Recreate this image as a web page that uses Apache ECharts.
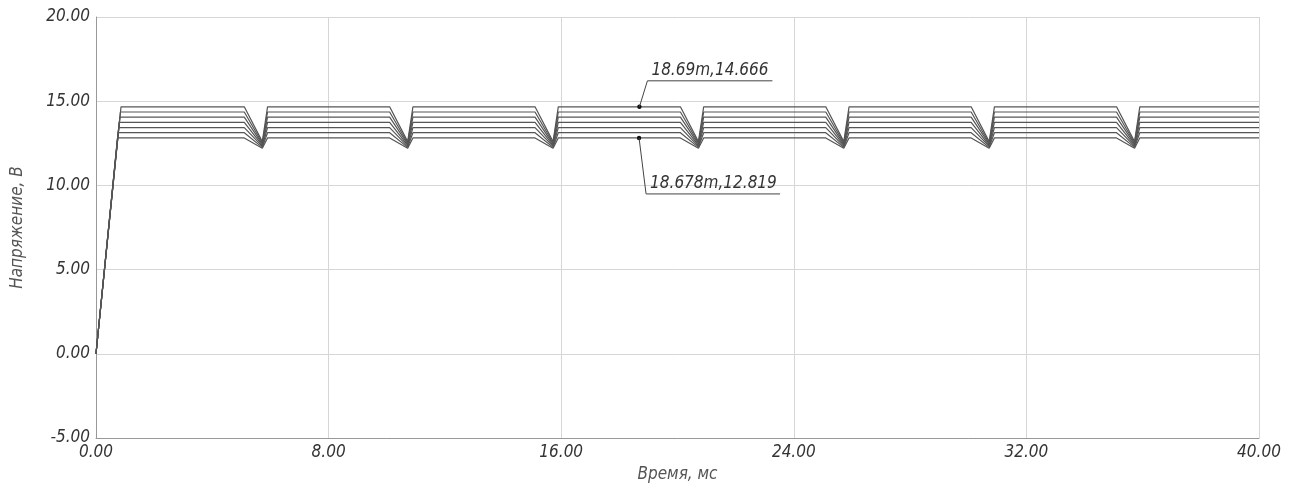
<!DOCTYPE html>
<html>
<head>
<meta charset="utf-8">
<script src="https://cdn.jsdelivr.net/npm/echarts@6/dist/echarts.min.js"></script>
<style>
  html, body { margin: 0; padding: 0; background: #fff; }
  #chart { width: 1293px; height: 490px; }
</style>
</head>
<body>
<div id="chart"></div>
<script>
// time points (ms) shared by all traces after the ramp: each dip (start, bottom, recovery), end
const times = [
  5.1, 5.72, 5.9,
  10.1, 10.72, 10.9,
  15.1, 15.72, 15.9,
  20.1, 20.72, 20.9,
  25.1, 25.72, 25.9,
  30.1, 30.72, 30.9,
  35.1, 35.72, 35.9,
  40];

// time (ms) where each trace's ramp reaches its level
const rampEnd = [0.86, 0.84, 0.82, 0.8, 0.78, 0.76, 0.74];

// voltage (V) for each trace, top to bottom: level, then dip pattern
const trace1 = [14.666, 14.666, 12.6, 14.666, 14.666, 12.6, 14.666, 14.666, 12.6, 14.666, 14.666, 12.6, 14.666, 14.666, 12.6, 14.666, 14.666, 12.6, 14.666, 14.666, 12.6, 14.666, 14.666];
const trace2 = [14.36, 14.36, 12.52, 14.36, 14.36, 12.52, 14.36, 14.36, 12.52, 14.36, 14.36, 12.52, 14.36, 14.36, 12.52, 14.36, 14.36, 12.52, 14.36, 14.36, 12.52, 14.36, 14.36];
const trace3 = [14.05, 14.05, 12.45, 14.05, 14.05, 12.45, 14.05, 14.05, 12.45, 14.05, 14.05, 12.45, 14.05, 14.05, 12.45, 14.05, 14.05, 12.45, 14.05, 14.05, 12.45, 14.05, 14.05];
const trace4 = [13.74, 13.74, 12.38, 13.74, 13.74, 12.38, 13.74, 13.74, 12.38, 13.74, 13.74, 12.38, 13.74, 13.74, 12.38, 13.74, 13.74, 12.38, 13.74, 13.74, 12.38, 13.74, 13.74];
const trace5 = [13.43, 13.43, 12.32, 13.43, 13.43, 12.32, 13.43, 13.43, 12.32, 13.43, 13.43, 12.32, 13.43, 13.43, 12.32, 13.43, 13.43, 12.32, 13.43, 13.43, 12.32, 13.43, 13.43];
const trace6 = [13.13, 13.13, 12.26, 13.13, 13.13, 12.26, 13.13, 13.13, 12.26, 13.13, 13.13, 12.26, 13.13, 13.13, 12.26, 13.13, 13.13, 12.26, 13.13, 13.13, 12.26, 13.13, 13.13];
const trace7 = [12.819, 12.819, 12.2, 12.819, 12.819, 12.2, 12.819, 12.819, 12.2, 12.819, 12.819, 12.2, 12.819, 12.819, 12.2, 12.819, 12.819, 12.2, 12.819, 12.819, 12.2, 12.819, 12.819];
const traces = [trace1, trace2, trace3, trace4, trace5, trace6, trace7];

// cursor readouts
const markX = [18.69, 18.678];
const markY = [14.666, 12.819];
const markText = ['18.69m,14.666', '18.678m,12.819'];

const xTicks = { min: 0, max: 40, interval: 8 };
const yTicks = { min: -5, max: 20, interval: 5 };

const font = '"Liberation Sans Narrow", "DejaVu Sans Condensed", "DejaVu Sans", sans-serif';
// leader line offsets (px) for each readout: [dx, dy, underline length]
const leader = [[8, -26, 125], [7, 56, 134]];

const chart = echarts.init(document.getElementById('chart'));

const lineSeries = traces.map(function (t, k) {
  const pts = [[0, 0], [0.05, 0], [rampEnd[k], t[0]]];
  times.forEach(function (x, i) { pts.push([x, t[i + 1]]); });
  return {
    type: 'line',
    data: pts,
    symbol: 'none',
    lineStyle: { color: '#555', width: 1.2 },
    silent: true
  };
});

const axisText = { fontFamily: font, fontStyle: 'italic', fontSize: 17, color: '#333' };

chart.setOption({
  animation: false,
  grid: { left: 96, right: 34, top: 17, bottom: 52 },
  xAxis: {
    type: 'value',
    min: xTicks.min, max: xTicks.max, interval: xTicks.interval,
    name: 'Время, мс',
    nameLocation: 'middle',
    nameGap: 26,
    nameTextStyle: { fontFamily: font, fontStyle: 'italic', fontSize: 17, color: '#555' },
    axisLine: { onZero: false, lineStyle: { color: '#999' } },
    axisTick: { show: false },
    axisLabel: Object.assign({ margin: 6, formatter: function (v) { return v.toFixed(2); } }, axisText),
    splitLine: { lineStyle: { color: '#d6d6d6' } }
  },
  yAxis: {
    type: 'value',
    min: yTicks.min, max: yTicks.max, interval: yTicks.interval,
    name: 'Напряжение, В',
    nameLocation: 'middle',
    nameGap: 70,
    nameTextStyle: { fontFamily: font, fontStyle: 'italic', fontSize: 17, color: '#555' },
    axisLine: { show: true, onZero: false, lineStyle: { color: '#999' } },
    axisTick: { show: false },
    axisLabel: Object.assign({ margin: 6, formatter: function (v) { return v.toFixed(2); } }, axisText),
    splitLine: { lineStyle: { color: '#d6d6d6' } }
  },
  series: lineSeries.concat([
    {
      type: 'custom',
      data: markX.map(function (x, i) { return [x, markY[i]]; }),
      z: 10,
      renderItem: function (params, api) {
        const p = api.coord([api.value(0), api.value(1)]);
        const o = leader[params.dataIndex];
        const ex = p[0] + o[0], ey = p[1] + o[1];
        return {
          type: 'group',
          children: [
            { type: 'circle', shape: { cx: p[0], cy: p[1], r: 2.2 }, style: { fill: '#111' } },
            { type: 'polyline', shape: { points: [[p[0], p[1]], [ex, ey], [ex + o[2], ey]] },
              style: { stroke: '#444', lineWidth: 1, fill: null } },
            { type: 'text', x: ex + 4, y: ey - 2,
              style: { text: markText[params.dataIndex], fontFamily: font, fontStyle: 'italic',
                       fontSize: 17, fill: '#333', verticalAlign: 'bottom', align: 'left' } }
          ]
        };
      }
    }
  ])
});
</script>
</body>
</html>
